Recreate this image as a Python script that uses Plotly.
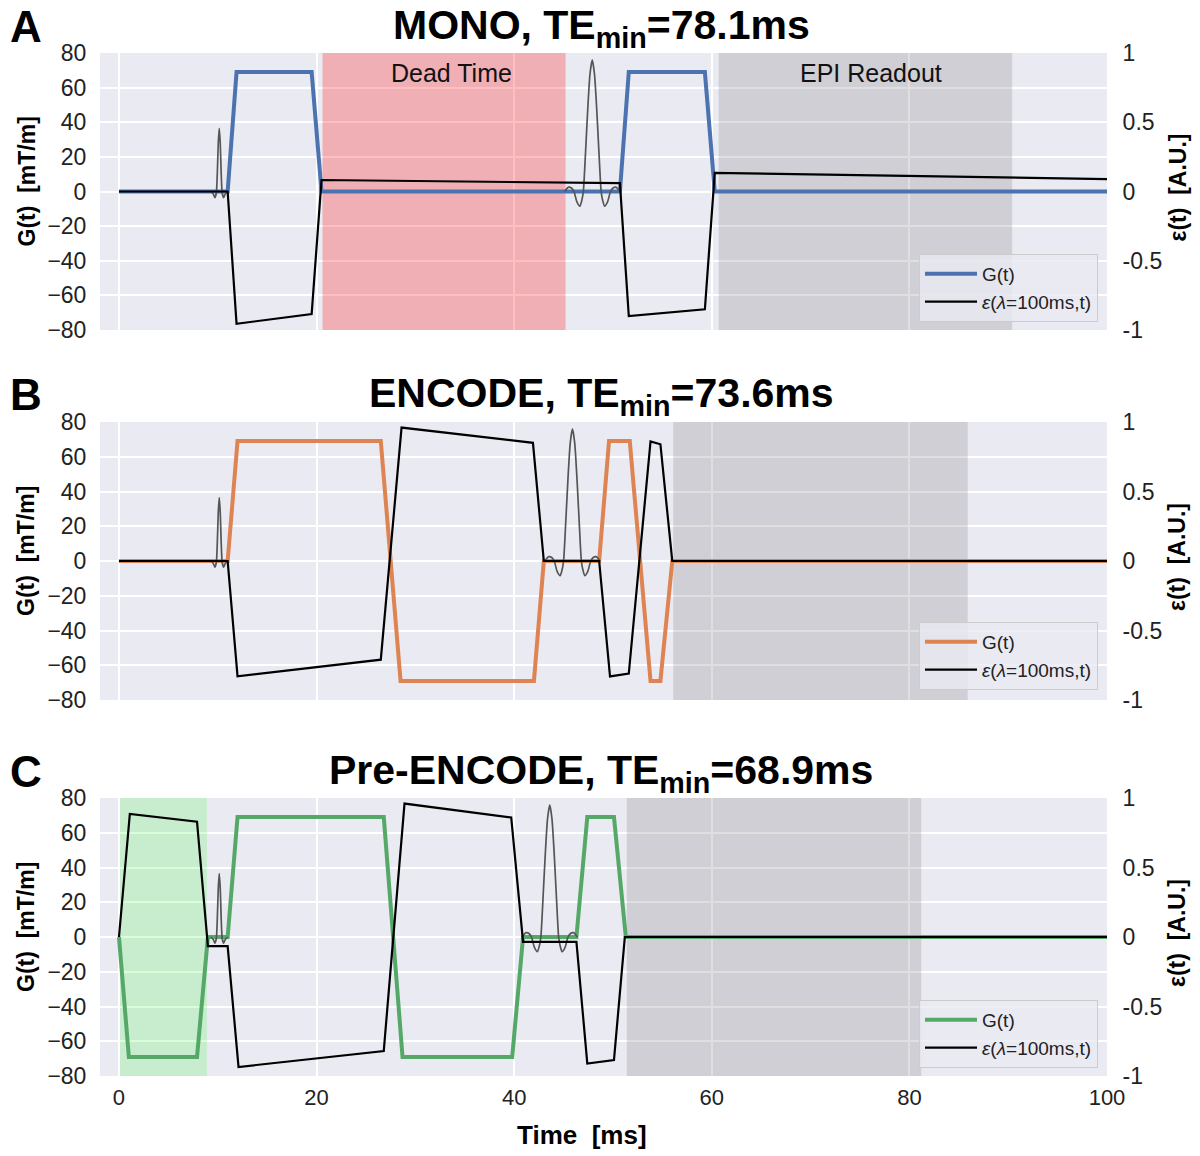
import plotly.graph_objects as go

# ---------------- data ----------------
time_ticks = [0, 20, 40, 60, 80, 100]
g_ticks = [-80, -60, -40, -20, 0, 20, 40, 60, 80]
eps_ticks = [-1, -0.5, 0, 0.5, 1]
eps_tick_labels = ["-1", "-0.5", "0", "0.5", "1"]

panel_letters = ["A", "B", "C"]
panel_names = ["MONO", "ENCODE", "Pre-ENCODE"]
te_min = ["78.1", "73.6", "68.9"]

# MONO
mono_g_t = [0, 11.0, 11.9, 19.5, 20.5, 50.7, 51.6, 59.3, 60.3, 100]
mono_g = [0, 0, 69, 69, 0, 0, 69, 69, 0, 0]
mono_eps_t = [0, 11.0, 11.9, 19.5, 20.5, 50.7, 51.6, 59.3, 60.3, 100]
mono_eps = [0, 0, -0.955, -0.885, 0.083, 0.06, -0.90, -0.85, 0.134, 0.09]

# ENCODE
enc_g_t = [0, 11.0, 12.0, 26.5, 28.5, 42.0, 43.0, 48.6, 49.6, 51.7, 53.8, 54.8, 56.0, 100]
enc_g = [0, 0, 69, 69, -69, -69, 0, 0, 69, 69, -69, -69, 0, 0]
enc_eps_t = [0, 11.0, 12.0, 26.5, 28.6, 41.9, 43.0, 48.6, 49.7, 51.6, 53.8, 54.8, 56.0, 100]
enc_eps = [0, 0, -0.83, -0.71, 0.96, 0.85, 0, 0, -0.83, -0.81, 0.86, 0.84, 0, 0]

# Pre-ENCODE
pre_g_t = [0, 1.0, 7.9, 9.0, 11.0, 12.0, 26.8, 28.7, 39.8, 40.9, 46.3, 47.4, 50.1, 51.3, 100]
pre_g = [0, -69, -69, 0, 0, 69, 69, -69, -69, 0, 0, 69, 69, 0, 0]
pre_eps_t = [0, 1.1, 7.9, 9.0, 11.0, 12.1, 26.8, 28.9, 39.7, 40.9, 46.3, 47.4, 50.1, 51.2, 100]
pre_eps = [0, 0.885, 0.83, -0.065, -0.065, -0.935, -0.82, 0.96, 0.86, -0.035, -0.035, -0.91, -0.885, 0, 0]

# RF pulses (offset from pulse centre in ms, amplitude in G units)
rf90_dt = [-0.85, -0.6, -0.45, -0.3, -0.2, -0.1, 0, 0.1, 0.2, 0.3, 0.45, 0.6, 0.85]
rf90_amp = [0, -1.5, -3.5, -1, 10, 28, 36.5, 28, 10, -1, -3.5, -1.5, 0]
rf180_dt = [-2.8, -2.4, -2.1, -1.85, -1.55, -1.25, -1.05, -0.9, -0.675, -0.45, -0.225, 0,
            0.225, 0.45, 0.675, 0.9, 1.05, 1.25, 1.55, 1.85, 2.1, 2.4, 2.8]
rf180_amp = [0, 2.5, 2.0, 0, -6, -8.5, -5, 0, 23, 48, 68, 76,
             68, 48, 23, 0, -5, -8.5, -6, 0, 2.0, 2.5, 0]
rf90_centre = [10.15, 10.15, 10.15]
rf180_centre = [47.9, 45.9, 43.6]

# shaded windows [start, end] in ms
dead_time_mono = [20.6, 45.2]
epi_readout = [[60.7, 90.4], [56.1, 85.9], [51.4, 81.2]]
pre_window = [0.1, 8.9]

colors = ["#4C72B0", "#DD8452", "#55A868"]

# ---------------- figure ----------------
FONT = "Liberation Sans, Arial, sans-serif"
OFF = 8                      # page body margin offset
W, H = 1200 - OFF, 1156 - OFF
ML = 100 - OFF
MR = W - (1107 - OFF)
MT = 53 - OFF
MB = H - (1076 - OFF)
pw = W - ML - MR
ph = H - MT - MB
G_RANGE = [-80, 80]

def px_x(px):
    return (px - OFF - ML) / pw

def px_y(py):
    return (H - MB - (py - OFF)) / ph

panel_px = [(53, 330), (422, 700), (798, 1076)]  # top, bottom rows (reference pixels)

fig = go.Figure()

g_data = [(mono_g_t, mono_g), (enc_g_t, enc_g), (pre_g_t, pre_g)]
eps_data = [(mono_eps_t, mono_eps), (enc_eps_t, enc_eps), (pre_eps_t, pre_eps)]
legend_names = ["legend", "legend2", "legend3"]

bands = [
    [(dead_time_mono, "rgba(255,0,0,0.25)"), (epi_readout[0], "rgba(128,128,128,0.25)")],
    [(epi_readout[1], "rgba(128,128,128,0.25)")],
    [(pre_window, "rgba(0,255,0,0.15)"), (epi_readout[2], "rgba(128,128,128,0.25)")],
]

layout_axes = {}
for i in range(3):
    xs = "x" if i == 0 else f"x{i+1}"
    yl = "y" if i == 0 else f"y{2*i+1}"
    yr = f"y{2*i+2}"
    leg = legend_names[i]
    # shaded windows, drawn as filled traces (above the grid, below the curves)
    for (t0, t1), col in bands[i]:
        fig.add_trace(go.Scatter(x=[t0, t1, t1, t0, t0],
                                 y=[G_RANGE[0], G_RANGE[0], G_RANGE[1], G_RANGE[1], G_RANGE[0]],
                                 mode="lines", fill="toself", fillcolor=col,
                                 line=dict(width=0), hoverinfo="skip", showlegend=False,
                                 xaxis=xs, yaxis=yl, legend=leg))
    gt, gv = g_data[i]
    et, ev = eps_data[i]
    fig.add_trace(go.Scatter(x=gt, y=gv, mode="lines", name="G(t)",
                             line=dict(color=colors[i], width=4),
                             xaxis=xs, yaxis=yl, legend=leg))
    rx = [rf90_centre[i] + d for d in rf90_dt] + [None] + [rf180_centre[i] + d for d in rf180_dt]
    ry = rf90_amp + [None] + rf180_amp
    fig.add_trace(go.Scatter(x=rx, y=ry, mode="lines", showlegend=False,
                             line=dict(color="#555555", width=1.7, shape="spline", smoothing=0.6),
                             xaxis=xs, yaxis=yl, legend=leg))
    fig.add_trace(go.Scatter(x=et, y=ev, mode="lines",
                             name="<i>ε</i>(<i>λ</i>=100ms,t)",
                             line=dict(color="black", width=2.2),
                             xaxis=xs, yaxis=yr, legend=leg))

    top, bot = panel_px[i]
    dom = [px_y(bot), px_y(top)]
    xkey = "xaxis" if i == 0 else f"xaxis{i+1}"
    ylkey = "yaxis" if i == 0 else f"yaxis{2*i+1}"
    yrkey = f"yaxis{2*i+2}"
    layout_axes[xkey] = dict(domain=[0, 1], anchor=yl, range=[-1.92, 100],
                             tickvals=time_ticks, showticklabels=(i == 2),
                             gridcolor="white", gridwidth=1.5, zeroline=False, showline=False,
                             ticks="outside", ticklen=2, tickcolor="rgba(0,0,0,0)",
                             tickfont=dict(size=22, color="#222", family=FONT))
    layout_axes[ylkey] = dict(domain=dom, anchor=xs, range=G_RANGE, tickvals=g_ticks,
                              gridcolor="white", gridwidth=1.5, zeroline=False, showline=False,
                              ticks="outside", ticklen=8, tickcolor="rgba(0,0,0,0)",
                              tickfont=dict(size=23, color="#222", family=FONT))
    layout_axes[yrkey] = dict(overlaying=yl, side="right", anchor=xs, range=[-1, 1],
                              tickvals=eps_ticks, ticktext=eps_tick_labels,
                              showgrid=False, zeroline=False, showline=False,
                              ticks="outside", ticklen=10, tickcolor="rgba(0,0,0,0)",
                              tickfont=dict(size=23, color="#222", family=FONT))

annotations = []

annotations.append(dict(xref="x", yref="paper", x=sum(dead_time_mono) / 2, y=px_y(73),
                        xanchor="center", yanchor="middle", xshift=7,
                        text="Dead Time", showarrow=False,
                        font=dict(size=25, color="#111", family=FONT)))
annotations.append(dict(xref="x", yref="paper", x=sum(epi_readout[0]) / 2, y=px_y(73),
                        xanchor="center", yanchor="middle", xshift=6,
                        text="EPI Readout", showarrow=False,
                        font=dict(size=25, color="#111", family=FONT)))

title_py = [28, 396, 773]
for i in range(3):
    top, bot = panel_px[i]
    annotations.append(dict(xref="paper", yref="paper", x=px_x(601), y=px_y(title_py[i]),
                            xanchor="center", yanchor="middle", showarrow=False,
                            text=f"<b>{panel_names[i]}, TE<sub>min</sub>={te_min[i]}ms</b>",
                            font=dict(size=41, color="black", family=FONT)))
    annotations.append(dict(xref="paper", yref="paper", x=px_x(26), y=px_y(title_py[i] - 2),
                            xanchor="center", yanchor="middle", showarrow=False,
                            text=f"<b>{panel_letters[i]}</b>",
                            font=dict(size=44, color="black", family=FONT)))
    cy = (top + bot) / 2
    annotations.append(dict(xref="paper", yref="paper", x=px_x(26), y=px_y(cy - 10),
                            xanchor="center", yanchor="middle", showarrow=False, textangle=-90,
                            text="<b>G(t)  [mT/m]</b>",
                            font=dict(size=23, color="black", family=FONT)))
    annotations.append(dict(xref="paper", yref="paper", x=px_x(1177), y=px_y(cy - 4),
                            xanchor="center", yanchor="middle", showarrow=False, textangle=-90,
                            text="<b>ε(t)  [A.U.]</b>",
                            font=dict(size=23, color="black", family=FONT)))

annotations.append(dict(xref="paper", yref="paper", x=px_x(582), y=px_y(1135),
                        xanchor="center", yanchor="middle", showarrow=False,
                        text="<b>Time  [ms]</b>",
                        font=dict(size=26, color="black", family=FONT)))

legend_bottom_px = [322, 690, 1068]
legend_style = {}
for i in range(3):
    key = legend_names[i]
    legend_style[key] = dict(x=px_x(1098), y=px_y(legend_bottom_px[i]), xanchor="right",
                             yanchor="bottom", xref="paper", yref="paper",
                             bgcolor="rgba(234,234,242,0.8)", bordercolor="#CCCCCC",
                             borderwidth=1, font=dict(size=19, color="#222", family=FONT),
                             tracegroupgap=0, itemwidth=52)

fig.update_layout(
    width=W, height=H,
    margin=dict(l=ML, r=MR, t=MT, b=MB, autoexpand=False),
    paper_bgcolor="white", plot_bgcolor="#EAEAF2",
    font=dict(family=FONT, color="#222"),
    annotations=annotations,
    **layout_axes, **legend_style,
)

fig.write_html("out.html")
